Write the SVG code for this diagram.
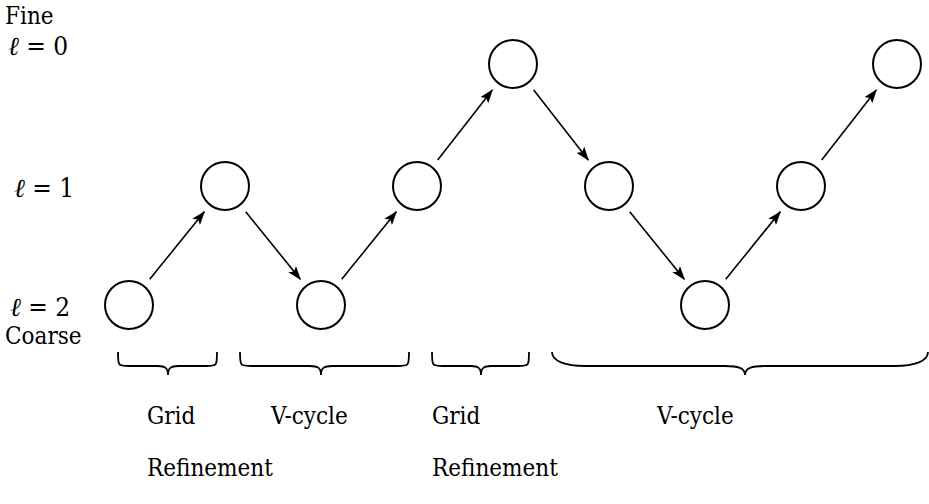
<svg xmlns="http://www.w3.org/2000/svg" width="929" height="504" viewBox="0 0 929 504">
<defs>
<style>
text{font-family:"DejaVu Serif Condensed","DejaVu Serif",serif;font-size:24px;fill:#000}
.m{font-size:26px}
.i{font-style:italic}
.n{fill:#fff;stroke:#000;stroke-width:2}
.c{stroke:#000;stroke-width:1.6;fill:none;marker-end:url(#ah)}
.b{stroke:#000;stroke-width:1.8;fill:none}
</style>
<marker id="ah" viewBox="0 0 14 10" refX="13" refY="5" markerWidth="14" markerHeight="10" markerUnits="userSpaceOnUse" orient="auto">
<path d="M0,0 L14,5 L0,10 L3,5 Z" fill="#000"/>
</marker>
</defs>
<g id="labels">
<text x="5" y="24">Fine</text>
<text class="m" x="8" y="55"><tspan class="i">ℓ</tspan> = 0</text>
<text class="m" x="14" y="197"><tspan class="i">ℓ</tspan> = 1</text>
<text class="m" x="10" y="316"><tspan class="i">ℓ</tspan> = 2</text>
<text x="5" y="344">Coarse</text>
<text x="147" y="424">Grid</text>
<text x="147" y="476">Refinement</text>
<text x="271" y="424">V-cycle</text>
<text x="432" y="424">Grid</text>
<text x="432" y="476">Refinement</text>
<text x="657" y="424">V-cycle</text>
</g>
<g id="n1"><circle class="n" cx="129" cy="305" r="24"/></g>
<g id="n2"><circle class="n" cx="225" cy="186" r="24"/></g>
<g id="n3"><circle class="n" cx="321" cy="305" r="24"/></g>
<g id="n4"><circle class="n" cx="417" cy="186" r="24"/></g>
<g id="n5"><circle class="n" cx="513" cy="64" r="24"/></g>
<g id="n6"><circle class="n" cx="609" cy="186" r="24"/></g>
<g id="n7"><circle class="n" cx="705" cy="305" r="24"/></g>
<g id="n8"><circle class="n" cx="801" cy="186" r="24"/></g>
<g id="n9"><circle class="n" cx="897" cy="64" r="24"/></g>
<g id="connectors">
<line class="c" x1="149.7" y1="279.3" x2="204.3" y2="211.7"/>
<line class="c" x1="245.7" y1="211.7" x2="300.3" y2="279.3"/>
<line class="c" x1="341.7" y1="279.3" x2="396.3" y2="211.7"/>
<line class="c" x1="437.7" y1="160" x2="492.3" y2="90"/>
<line class="c" x1="533.7" y1="90" x2="588.3" y2="160"/>
<line class="c" x1="629.7" y1="211.7" x2="684.3" y2="279.3"/>
<line class="c" x1="725.7" y1="279.3" x2="780.3" y2="211.7"/>
<line class="c" x1="821.7" y1="160" x2="876.3" y2="90"/>
</g>
<g id="braces">
<path class="b" d="M118,352 C118,366 118,366 129,366 H158 C165,366 168,368 168,375 C168,368 171,366 178,366 H206 C217,366 217,366 217,352"/>
<path class="b" d="M240,352 C240,366 240,366 252,366 H310 C318,366 321,368 321,375 C321,368 324,366 332,366 H397 C409,366 409,366 409,352"/>
<path class="b" d="M432,352 C432,366 432,366 443,366 H471 C478,366 481,368 481,375 C481,368 484,366 491,366 H518 C529,366 529,366 529,352"/>
<path class="b" d="M552,352 C552,361 565,366 585,366 H725 C738,366 745,368 745,375 C745,368 752,366 765,366 H895 C915,366 928,361 928,352"/>
</g>
</svg>
